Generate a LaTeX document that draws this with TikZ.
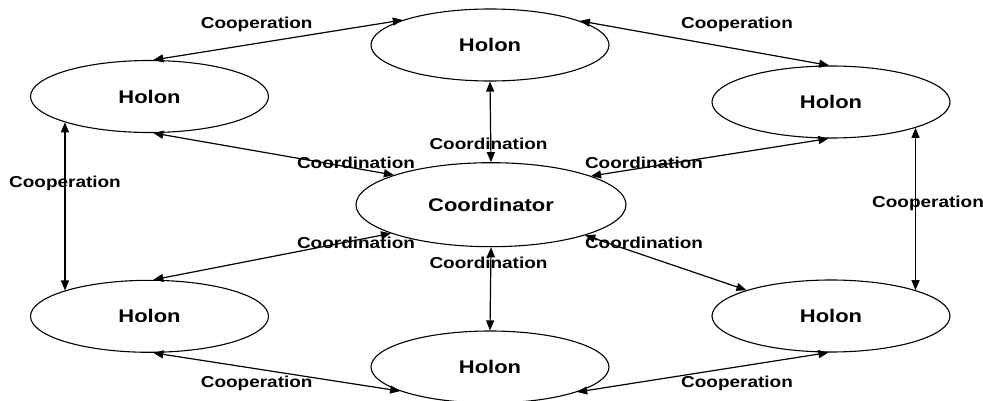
\documentclass[tikz,border=0pt]{standalone}
\usepackage{fontspec}
\setmainfont{Liberation Sans}
\usetikzlibrary{shapes.geometric,arrows.meta}
\tikzset{
  holon/.style={draw, ellipse, line width=1.1pt, inner sep=0pt, minimum width=238pt, minimum height=72pt,
    font=\fontsize{18.3}{20}\selectfont\bfseries},
  coord/.style={holon, minimum width=270pt, minimum height=84pt},
  lbl/.style={inner sep=0pt, font=\fontsize{15.8}{18}\selectfont\bfseries},
  link/.style={line width=1.2pt, {Triangle[length=10pt,width=8pt]}-{Triangle[length=10pt,width=8pt]}}
}
\newcommand{\sx}[1]{\scalebox{1.2}[1]{#1}}
\begin{document}
\begin{tikzpicture}[x=1pt,y=-1pt]
\useasboundingbox (0,0) rectangle (983,401);
\node[holon] (t)  at (490,45)    {\sx{Holon}};
\node[holon] (tl) at (149.5,96.5) {\sx{Holon}};
\node[holon] (tr) at (831,102)   {\sx{Holon}};
\node[coord] (c)  at (491,204.7) {\sx{Coordinator}};
\node[holon] (bl) at (149.5,316.3) {\sx{Holon}};
\node[holon] (br) at (831,316)   {\sx{Holon}};
\node[holon] (b)  at (490,367)   {\sx{Holon}};

\draw[link] (tl.84) -- (t.164);
\draw[link] (t.15.4) -- (tr.93.6);
\draw[link] (t.south) -- (c.north);
\draw[link] (tl.276) -- (c.163);
\draw[link] (tr.266.3) -- (c.16.9);
\draw[link] (tl.197) -- (bl.163);
\draw[link] (tr.343) -- (br.17);
\draw[link] (c.south) -- (b.north);
\draw[link] (c.196.3) -- (bl.84);
\draw[link] (c.342.8) -- (br.163.1);
\draw[link] (bl.276) -- (b.195.6);
\draw[link] (b.344.6) -- (br.266);

\node[lbl] (l1) at (256.7,24) {\sx{Cooperation}};
\node[lbl] (l2) at (737,24) {\sx{Cooperation}};
\node[lbl] (l3) at (488.5,143.5) {\sx{Coordination}};
\node[lbl] (l4) at (356,163.3) {\sx{Coordination}};
\node[lbl] (l5) at (644,163.3) {\sx{Coordination}};
\node[lbl] (l6) at (65,183.3) {\sx{Cooperation}};
\node[lbl] (l7) at (928,203) {\sx{Cooperation}};
\node[lbl] (l8) at (488.5,263.3) {\sx{Coordination}};
\node[lbl] (l9) at (356,243.3) {\sx{Coordination}};
\node[lbl] (l10) at (644,243.3) {\sx{Coordination}};
\node[lbl] (l11) at (256.7,383.3) {\sx{Cooperation}};
\node[lbl] (l12) at (737,383.3) {\sx{Cooperation}};
\end{tikzpicture}
\end{document}
